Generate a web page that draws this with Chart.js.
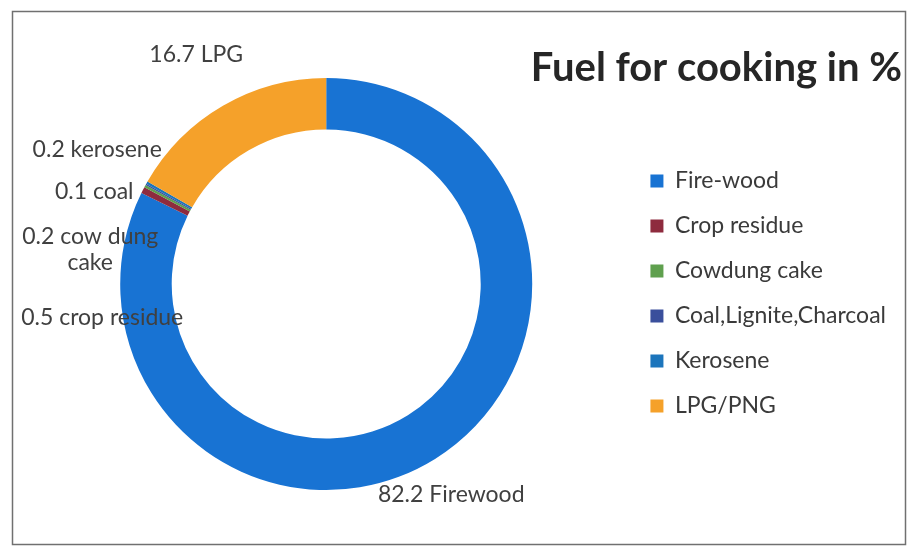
<!DOCTYPE html>
<html>
<head>
<meta charset="utf-8">
<script src="https://cdn.jsdelivr.net/npm/chart.js@4.4.1/dist/chart.umd.min.js"></script>
<style>
  html, body { margin: 0; padding: 0; background: #fff; }
</style>
</head>
<body>
<canvas id="fuelChart" width="909" height="557"></canvas>
<script>
const titleText = 'Fuel for cooking in %';
const categories = ['Fire-wood', 'Crop residue', 'Cowdung cake', 'Coal,Lignite,Charcoal', 'Kerosene', 'LPG/PNG'];
const shares = [82.2, 0.5, 0.2, 0.1, 0.2, 16.7];
const sliceNames = [['Firewood'], ['crop residue'], ['cow dung', 'cake'], ['coal'], ['kerosene'], ['LPG']];
const colors = ['#1873D3', '#8E2B3E', '#5FA04E', '#3A4F9C', '#1C75BC', '#F5A12A'];
// hand placed data labels (like in the Excel original), offset from ring centre
const labelOffsets = [[125, 211], [-224, 34], [-236, -47], [-232, -92], [-229, -134], [-130, -229]];

const frameAndLabels = {
  id: 'frameAndLabels',
  beforeDraw(chart) {
    const ctx = chart.ctx;
    ctx.save();
    ctx.fillStyle = '#fff';
    ctx.fillRect(0, 0, chart.width, chart.height);
    ctx.strokeStyle = '#707070';
    ctx.lineWidth = 1.5;
    ctx.strokeRect(12.5, 11.5, 893, 533);
    ctx.restore();
  },
  afterDatasetsDraw(chart) {
    const ctx = chart.ctx;
    const arc = chart.getDatasetMeta(0).data[0];
    ctx.save();
    ctx.font = '23px Lato';
    ctx.fillStyle = '#404040';
    ctx.textAlign = 'center';
    ctx.textBaseline = 'middle';
    shares.forEach((v, i) => {
      const [dx, dy] = labelOffsets[i];
      const lines = sliceNames[i].slice();
      lines[0] = v + ' ' + lines[0];
      lines.forEach((t, k) => ctx.fillText(t, arc.x + dx, arc.y + dy + k * 26));
    });
    // chart title, top right like the original
    ctx.font = 'bold 40px Lato';
    ctx.fillStyle = '#262626';
    ctx.textAlign = 'right';
    ctx.fillText(titleText, 902, 68);
    ctx.restore();
  }
};

new Chart(document.getElementById('fuelChart'), {
  type: 'doughnut',
  data: {
    labels: categories,
    datasets: [{
      data: shares,
      backgroundColor: colors,
      borderWidth: 0,
    }]
  },
  options: {
    responsive: false,
    animation: false,
    cutout: '75%',
    layout: { padding: { left: 24, right: 13, top: 78, bottom: 67 } },
    plugins: {
      tooltip: { enabled: false },
      legend: {
        position: 'right',
        align: 'start',
        // empty title only pushes the legend rows down
        title: { display: true, text: '', padding: { top: 0, bottom: 55 } },
        labels: {
          boxWidth: 13,
          boxHeight: 13,
          padding: 22,
          color: '#3a3a3a',
          font: { family: 'Lato', size: 23 }
        }
      }
    }
  },
  plugins: [frameAndLabels]
});
</script>
</body>
</html>
